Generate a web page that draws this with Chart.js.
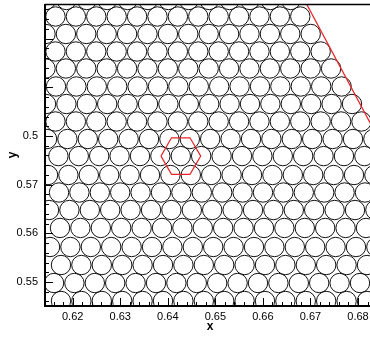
<!DOCTYPE html>
<html>
<head>
<meta charset="utf-8">
<title>Particle packing</title>
<script src="https://cdn.jsdelivr.net/npm/chart.js@4.4.1/dist/chart.umd.min.js"></script>
<style>
  html, body { margin: 0; padding: 0; background: #fff; overflow: hidden; }
  #wrap { width: 370px; height: 337px; overflow: hidden; }
  canvas { display: block; }
</style>
</head>
<body>
<div id="wrap"><canvas id="packingChart" width="400" height="337"></canvas></div>
<script>
// Particle rows: centre height, centre of the first particle, particles per row
const rowY = [0.60794, 0.60455, 0.60096, 0.59736, 0.59387, 0.59017, 0.58657, 0.58298, 0.57938,
              0.57587, 0.57198, 0.56839, 0.56479, 0.56110, 0.55719, 0.55349, 0.54979, 0.54610];
const rowStartX = [0.61439, 0.61638, 0.61428, 0.61638, 0.61428, 0.61649, 0.61439, 0.61638, 0.61460,
                   0.61699, 0.61481, 0.61712, 0.61502, 0.61733, 0.61523, 0.61754, 0.61607, 0.61754];
const rowCount = [13, 13, 14, 14, 15, 15, 16, 16, 17, 17, 17, 17, 17, 17, 17, 17, 17, 17];
const particleSpacing = 0.00429;
const particleRadius = 0.00204;

// inclined wall
const wallX = [0.6692, 0.6877];
const wallY = [0.6071, 0.5733];

// hexagonal cell around one particle
const cellX = [0.63857, 0.64078, 0.64467, 0.64692, 0.64467, 0.64078, 0.63857];
const cellY = [0.57587, 0.57963, 0.57963, 0.57587, 0.57212, 0.57212, 0.57587];

// axes
const xTickValues = [0.62, 0.63, 0.64, 0.65, 0.66, 0.67, 0.68];
const xTickLabels = ['0.62', '0.63', '0.64', '0.65', '0.66', '0.67', '0.68'];
const yTickValues = [0.55, 0.56, 0.57, 0.58];
const yTickLabels = ['0.55', '0.56', '0.57', '0.5'];
const xRange = [0.614175, 0.687782];
const yRange = [0.545069, 0.60712];

const particles = [];
rowY.forEach((yv, i) => {
    for (let k = 0; k < rowCount[i]; k++) {
        particles.push({ x: rowStartX[i] + k * particleSpacing, y: yv });
    }
});

const toPoints = (xs, ys) => xs.map((v, i) => ({ x: v, y: ys[i] }));

// radius in pixels taken from the x scale
function particlePixelRadius(ctx) {
    const s = ctx.chart.scales.x;
    return s.getPixelForValue(xRange[0] + particleRadius) - s.getPixelForValue(xRange[0]);
}

// frame, inward ticks and axis titles
const frameAndTicks = {
    id: 'frameAndTicks',
    afterDatasetsDraw(chart) {
        const { ctx, chartArea: a, scales: { x, y } } = chart;
        ctx.save();
        ctx.strokeStyle = '#000';
        ctx.lineWidth = 1;

        // minor every 0.002, major every 0.01
        for (let i = 305; i <= 345; i++) {
            const v = i * 0.002;
            if (v < xRange[0] || v > xRange[1]) continue;
            const px = Math.round(x.getPixelForValue(v)) + 0.5;
            const len = i % 5 === 0 ? 8 : 4;
            ctx.beginPath();
            ctx.moveTo(px, a.bottom);
            ctx.lineTo(px, a.bottom - len);
            ctx.stroke();
        }
        for (let i = 272; i <= 304; i++) {
            const v = i * 0.002;
            if (v < yRange[0] || v > yRange[1]) continue;
            const py = Math.round(y.getPixelForValue(v)) + 0.5;
            const len = i % 5 === 0 ? 8 : 4;
            ctx.beginPath();
            ctx.moveTo(a.left, py);
            ctx.lineTo(a.left + len, py);
            ctx.stroke();
        }

        ctx.lineWidth = 1.5;
        ctx.beginPath();
        ctx.moveTo(a.left, a.top + 0.5);
        ctx.lineTo(a.right, a.top + 0.5);
        ctx.stroke();

        ctx.lineWidth = 2;
        ctx.beginPath();
        ctx.moveTo(a.left, a.top);
        ctx.lineTo(a.left, a.bottom);
        ctx.lineTo(a.right, a.bottom);
        ctx.stroke();

        ctx.fillStyle = '#000';
        ctx.font = 'bold 12px "Liberation Sans", Arial, sans-serif';
        ctx.textAlign = 'center';
        ctx.textBaseline = 'middle';
        ctx.fillText('x', 210, 327);
        ctx.translate(13, (a.top + a.bottom) / 2);
        ctx.rotate(-Math.PI / 2);
        ctx.fillText('y', 0, 0);
        ctx.restore();
    }
};

new Chart(document.getElementById('packingChart'), {
    type: 'scatter',
    data: {
        datasets: [
            {
                label: 'cell',
                data: toPoints(cellX, cellY),
                showLine: true,
                borderColor: '#e8262a',
                borderWidth: 1.2,
                pointRadius: 0,
                tension: 0,
                clip: 0
            },
            {
                label: 'wall',
                data: toPoints(wallX, wallY),
                showLine: true,
                borderColor: '#e8262a',
                borderWidth: 1.2,
                pointRadius: 0,
                tension: 0,
                clip: 0
            },
            {
                label: 'particles',
                data: particles,
                pointRadius: particlePixelRadius,
                pointBorderColor: '#111',
                pointBorderWidth: 1,
                pointBackgroundColor: 'rgba(0,0,0,0)',
                clip: 0
            }
        ]
    },
    options: {
        responsive: false,
        animation: false,
        events: [],
        layout: { padding: { top: 4, left: 0, right: 5, bottom: 0 } },
        plugins: { legend: { display: false }, tooltip: { enabled: false } },
        scales: {
            x: {
                type: 'linear',
                min: xRange[0],
                max: xRange[1],
                grid: { display: false, drawTicks: false },
                border: { display: false },
                afterBuildTicks: axis => { axis.ticks = xTickValues.map(v => ({ value: v })); },
                afterFit: scale => {
                    scale.height = 31;
                    scale.paddingLeft = 0;
                    scale.paddingRight = 0;
                },
                ticks: {
                    autoSkip: false,
                    maxRotation: 0,
                    padding: 4,
                    color: '#000',
                    font: { family: '"Liberation Sans", Arial, sans-serif', size: 11 },
                    callback: (value, index) => xTickLabels[index]
                }
            },
            y: {
                type: 'linear',
                min: yRange[0],
                max: yRange[1],
                grid: { display: false, drawTicks: false },
                border: { display: false },
                afterBuildTicks: axis => { axis.ticks = yTickValues.map(v => ({ value: v })); },
                afterFit: scale => {
                    scale.width = 45;
                    scale.paddingTop = 0;
                    scale.paddingBottom = 0;
                },
                ticks: {
                    autoSkip: false,
                    padding: 7,
                    color: '#000',
                    font: { family: '"Liberation Sans", Arial, sans-serif', size: 11 },
                    callback: (value, index) => yTickLabels[index]
                }
            }
        }
    },
    plugins: [frameAndTicks]
});
</script>
</body>
</html>
